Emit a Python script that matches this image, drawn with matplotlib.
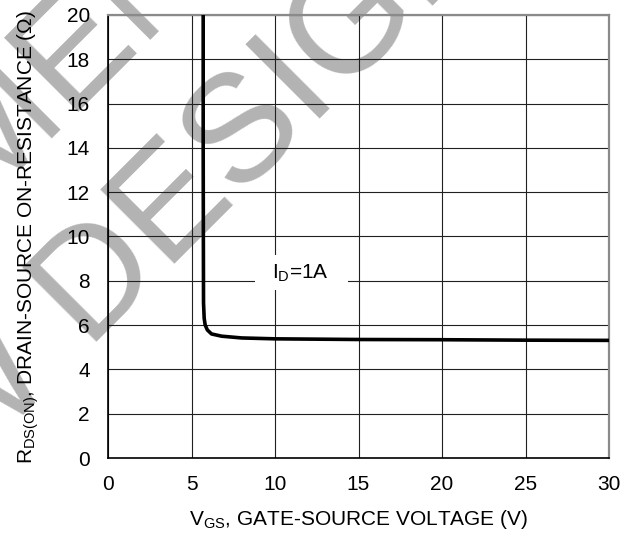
#RDS(on) vs VGS curve with grey watermark, datasheet style

import matplotlib
matplotlib.use('Agg')
import matplotlib.pyplot as plt
from matplotlib.patches import Rectangle

plt.rcParams['font.family'] = ['Liberation Sans', 'DejaVu Sans']
plt.rcParams['mathtext.fontset'] = 'custom'
plt.rcParams['mathtext.rm'] = 'Liberation Sans'
plt.rcParams['mathtext.it'] = 'Liberation Sans:italic'

#curve
vgs = [5.70, 5.70, 5.71, 5.72, 5.76, 5.82, 5.95, 6.2, 6.8, 8.0, 10.0, 15.0, 20.0, 25.0, 30.0]
rds = [20.5, 14.0, 10.0, 7.0, 6.3, 6.0, 5.78, 5.6, 5.5, 5.42, 5.38, 5.35, 5.34, 5.32, 5.31]

xticks = [0, 5, 10, 15, 20, 25, 30]
yticks = [0, 2, 4, 6, 8, 10, 12, 14, 16, 18, 20]

W, H = 638, 534
fig = plt.figure(figsize=(W/100, H/100), dpi=100)
ax = fig.add_axes([108/W, 1-458/H, 501/W, 443/H])

ax.plot(vgs, rds, color='black', linewidth=2.6, zorder=4, solid_capstyle='butt')

ax.set_xlim(0, 30)
ax.set_ylim(0, 20)
ax.set_xticks(xticks)
ax.set_yticks(yticks)
ax.tick_params(length=0, labelsize=15, colors='black')
ax.tick_params(axis='x', pad=12)
ax.tick_params(axis='y', pad=13)
ax.grid(True, color='#202020', linewidth=0.8)

for s in ['top', 'right']:
    ax.spines[s].set_color('#8a8a8a')
    ax.spines[s].set_linewidth(1.6)
for s in ['left', 'bottom']:
    ax.spines[s].set_color('black')
    ax.spines[s].set_linewidth(1.2)

#white box behind the label
ax.add_patch(Rectangle((8.8, 7.58), 5.55, 1.58, facecolor='white', edgecolor='none', zorder=2))
ax.text(11.5, 8.35, r'I$\mathregular{_D}$=1A', fontsize=15, ha='center', va='center', zorder=3)

ax.set_xlabel(r'V$\mathregular{_{GS}}$, GATE-SOURCE VOLTAGE (V)', fontsize=15, labelpad=10)
ax.set_ylabel(r'R$\mathregular{_{DS(ON)}}$, DRAIN-SOURCE ON-RESISTANCE (Ω)', fontsize=15)
ax.yaxis.set_label_coords(-0.134, 0.5)

#watermark
wm = dict(fontsize=110, color='#b3b3b3', rotation=45, rotation_mode='anchor',
          ha='center', va='baseline', transform=fig.transFigure, clip_on=False, zorder=0.5)
ax.text(154/W, 1-284/H, 'NEW DESIGN', **wm)
ax.text(14/W, 1-176/H, 'NOT RECOMMENDED FOR', **wm)

plt.savefig('out.png', dpi=100)
